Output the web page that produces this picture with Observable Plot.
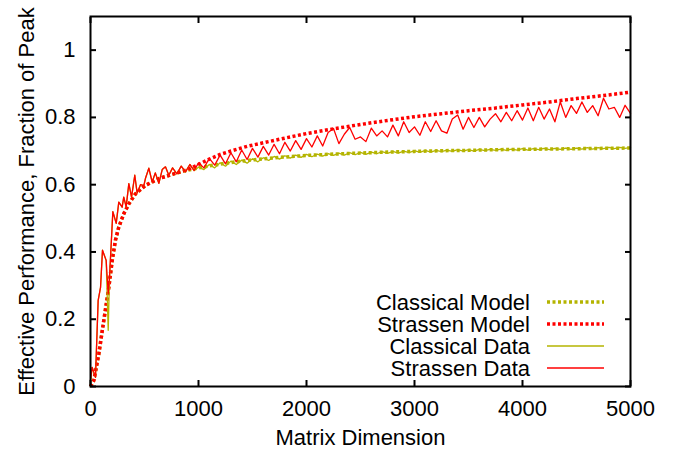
<!DOCTYPE html>
<html><head><meta charset="utf-8">
<script src="https://cdn.jsdelivr.net/npm/d3@7"></script>
<script src="https://cdn.jsdelivr.net/npm/@observablehq/plot@0.6"></script>
<style>
body{margin:0;background:#fff}
svg{font-family:"Liberation Sans",Arial,Helvetica,sans-serif}
</style>
</head><body><div id="chart"></div>
<script>
const xTicks = [0, 1000, 2000, 3000, 4000, 5000];
const yTicks = [0, 0.2, 0.4, 0.6, 0.8, 1];
const seriesNames = ["Classical Model", "Strassen Model", "Classical Data", "Strassen Data"];
const xLabel = "Matrix Dimension";
const yLabel = "Effective Performance, Fraction of Peak";

const modelN = [0,31,77,123,170,201,231,262,309,355,417,509,633,800,900,1000,1100,1200,1300,1450,1750,2000,2250,2500,2750,3000,3250,3500,3750,4000,4250,4500,4750,5000];
const classicalModel = [0,0.018,0.097,0.196,0.296,0.375,0.435,0.474,0.514,0.543,0.573,0.598,0.618,0.635,0.643,0.65,0.656,0.661,0.666,0.672,0.681,0.687,0.691,0.694,0.697,0.699,0.701,0.702,0.704,0.705,0.706,0.707,0.708,0.709];
const strassenModel = [0,0.018,0.097,0.196,0.296,0.375,0.435,0.474,0.514,0.543,0.573,0.598,0.618,0.635,0.645,0.66,0.676,0.69,0.70,0.714,0.735,0.752,0.766,0.779,0.791,0.802,0.811,0.82,0.828,0.837,0.846,0.856,0.865,0.875];

const dataN = [0,15,46,71,93,111,145,164,176,207,238,262,293,308,330,355,380,410,432,463,494,510,540,571,600,633,664,694,725,760,800,840,880,920,960,
1000,1050,1100,1150,1200,1250,1300,1350,1400,1450,1500,1550,1600,1650,1700,1750,1800,1850,1900,1950,
2000,2050,2100,2150,2200,2250,2300,2350,2400,2450,2500,2550,2600,2650,2700,2750,2800,2850,2900,2950,
3000,3050,3100,3150,3200,3250,3300,3350,3400,3450,3500,3550,3600,3650,3700,3750,3800,3850,3900,3950,
4000,4050,4100,4150,4200,4250,4300,4350,4400,4450,4500,4550,4600,4650,4700,4750,4800,4850,4900,4950,5000];

const classicalData = [0.01,0.057,0.027,0.256,0.295,0.405,0.375,0.167,0.325,0.52,0.485,0.548,0.533,0.563,0.534,0.603,0.563,0.628,0.575,0.6,0.597,0.62,0.649,0.608,0.635,0.604,0.645,0.653,0.628,0.65,0.632,0.655,0.638,0.66,0.642,
0.652,0.645,0.660,0.650,0.665,0.655,0.670,0.660,0.673,0.664,0.677,0.668,0.680,0.672,0.684,0.676,0.686,0.679,0.688,0.681,
0.690,0.683,0.691,0.685,0.692,0.687,0.694,0.688,0.695,0.689,0.696,0.690,0.697,0.692,0.698,0.693,0.699,0.694,0.700,0.695,
0.701,0.696,0.702,0.697,0.702,0.698,0.703,0.699,0.704,0.700,0.704,0.700,0.705,0.701,0.705,0.702,0.706,0.702,0.706,0.703,
0.707,0.703,0.707,0.704,0.708,0.704,0.708,0.705,0.709,0.705,0.709,0.706,0.710,0.706,0.710,0.707,0.711,0.707,0.711,0.708,0.711];

const strassenData = [0.02,0.057,0.027,0.256,0.295,0.405,0.375,0.277,0.325,0.52,0.485,0.548,0.533,0.563,0.534,0.603,0.563,0.628,0.575,0.6,0.597,0.62,0.649,0.608,0.635,0.604,0.645,0.653,0.628,0.65,0.632,0.655,0.638,0.66,0.642,
0.665,0.650,0.678,0.658,0.688,0.662,0.695,0.668,0.703,0.675,0.708,0.682,0.714,0.688,0.720,0.692,0.726,0.700,0.731,0.705,
0.737,0.712,0.745,0.715,0.755,0.767,0.722,0.750,0.770,0.735,0.742,0.728,0.768,0.745,0.760,0.742,0.777,0.745,0.787,0.755,
0.772,0.747,0.787,0.758,0.790,0.760,0.753,0.795,0.807,0.765,0.800,0.770,0.800,0.772,0.795,0.811,0.787,0.815,0.790,0.820,
0.792,0.828,0.790,0.830,0.795,0.825,0.787,0.846,0.800,0.835,0.812,0.846,0.815,0.835,0.805,0.857,0.825,0.830,0.800,0.836,0.812];

const olive = "#b4b400";
const red = "#ff0000";
const styles = [
  {stroke: olive, strokeWidth: 3.5, dash: "3,2.5"},
  {stroke: red, strokeWidth: 3.5, dash: "3,2.5"},
  {stroke: olive, strokeWidth: 1.3, dash: null},
  {stroke: red, strokeWidth: 1.3, dash: null}
];

const mIdx = d3.range(modelN.length);
const dIdx = d3.range(dataN.length);
const fmt = d => String(d);
const none = () => "";

const chart = Plot.plot({
  width: 686, height: 458,
  marginLeft: 90, marginRight: 56, marginTop: 16, marginBottom: 72,
  style: {fontSize: "22px", fontFamily: "'Liberation Sans', Arial, sans-serif", background: "#fff", overflow: "visible"},
  x: {domain: [0, 5000]},
  y: {domain: [0, 1.1]},
  marks: [
    Plot.line(mIdx, {x: i => modelN[i], y: i => classicalModel[i], stroke: styles[0].stroke, strokeWidth: styles[0].strokeWidth, strokeDasharray: styles[0].dash, strokeLinecap: "butt", strokeLinejoin: "miter"}),
    Plot.line(mIdx, {x: i => modelN[i], y: i => strassenModel[i], stroke: styles[1].stroke, strokeWidth: styles[1].strokeWidth, strokeDasharray: styles[1].dash, strokeLinecap: "butt", strokeLinejoin: "miter"}),
    Plot.line(dIdx, {x: i => dataN[i], y: i => classicalData[i], stroke: styles[2].stroke, strokeWidth: styles[2].strokeWidth}),
    Plot.line(dIdx, {x: i => dataN[i], y: i => strassenData[i], stroke: styles[3].stroke, strokeWidth: styles[3].strokeWidth}),
    Plot.axisX(xTicks, {anchor: "bottom", tickSize: 0, tickPadding: 14, tickFormat: fmt, label: null, fill: "#000"}),
    Plot.axisX(xTicks, {anchor: "bottom", tickSize: -6, tickFormat: none, label: null, strokeWidth: 2}),
    Plot.axisX(xTicks, {anchor: "top", tickSize: -6, tickFormat: none, label: null, strokeWidth: 2}),
    Plot.axisY(yTicks, {anchor: "left", tickSize: 0, tickPadding: 15, tickFormat: fmt, label: null, fill: "#000"}),
    Plot.axisY(yTicks, {anchor: "left", tickSize: -6, tickFormat: none, label: null, strokeWidth: 2}),
    Plot.axisY(yTicks, {anchor: "right", tickSize: -6, tickFormat: none, label: null, strokeWidth: 2}),
    Plot.text([xLabel], {frameAnchor: "bottom", dy: 58, fill: "#000"}),
    Plot.text([yLabel], {frameAnchor: "left", textAnchor: "middle", rotate: -90, dx: -64, fill: "#000"}),
    Plot.frame({stroke: "#000", strokeWidth: 2})
  ]
});

// legend (inside the plot area, bottom right)
const svg = d3.select(chart);
const lg = svg.append("g").attr("font-size", 22).attr("font-family", "'Liberation Sans', Arial, sans-serif");
seriesNames.forEach((name, i) => {
  const y = 302 + 22 * i;
  lg.append("text").attr("x", 530).attr("y", y).attr("dy", "0.35em").attr("text-anchor", "end").attr("fill", "#000").text(name);
  const ln = lg.append("line").attr("x1", 547).attr("x2", 604).attr("y1", y).attr("y2", y)
    .attr("stroke", styles[i].stroke).attr("stroke-width", styles[i].strokeWidth);
  if (styles[i].dash) ln.attr("stroke-dasharray", styles[i].dash);
});

document.getElementById("chart").appendChild(chart);
</script>
</body></html>
